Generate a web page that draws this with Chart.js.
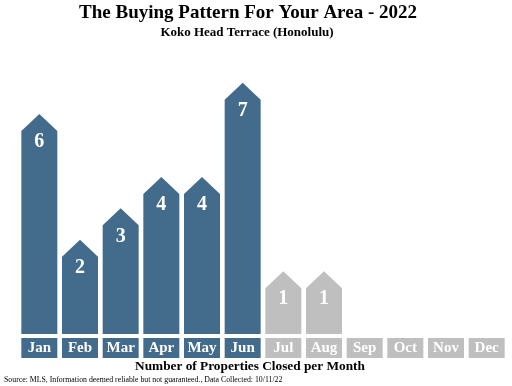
<!DOCTYPE html>
<html>
<head>
<meta charset="utf-8">
<script src="https://cdn.jsdelivr.net/npm/chart.js@4/dist/chart.umd.min.js"></script>
<style>
    html, body { margin: 0; padding: 0; background: #fff; }
    #wrap { width: 512px; height: 386px; }
</style>
</head>
<body>
<div id="wrap"><canvas id="buying_chart"></canvas></div>
<script>
// data
const months = ['Jan', 'Feb', 'Mar', 'Apr', 'May', 'Jun', 'Jul', 'Aug', 'Sep', 'Oct', 'Nov', 'Dec'];
const closed = [6, 2, 3, 4, 4, 7, 1, 1, 0, 0, 0, 0];
const last_month_done = 6; // Jan..Jun in blue, the rest grey

const main_title = 'The Buying Pattern For Your Area - 2022';
const sub_title  = 'Koko Head Terrace (Honolulu)';
const axis_title = 'Number of Properties Closed per Month';
const source_note = 'Source: MLS, Information deemed reliable but not guaranteed., Data Collected: 10/11/22';

const BLUE  = '#436b8b';
const GREY  = '#bfbfbf';
const SERIF = '"Liberation Serif", "DejaVu Serif", serif';

const bar_colors = months.map( ( m, i ) => i < last_month_done ? BLUE : GREY );

const house_plugin = {
    id: 'house_bars',
    afterDatasetsDraw( chart ){
        const ctx  = chart.ctx;
        const meta = chart.getDatasetMeta( 0 );

        ctx.save();
        meta.data.forEach( ( bar, i ) => {
            const half = bar.width / 2;
            const roof = half - 1;

            if( closed[i] > 0 ){
                ctx.beginPath();
                ctx.moveTo( bar.x - half, bar.base );
                ctx.lineTo( bar.x - half, bar.y + roof );
                ctx.lineTo( bar.x, bar.y );
                ctx.lineTo( bar.x + half, bar.y + roof );
                ctx.lineTo( bar.x + half, bar.base );
                ctx.closePath();
                ctx.fillStyle = bar_colors[i];
                ctx.fill();

                ctx.fillStyle    = '#fff';
                ctx.font         = 'bold 20px ' + SERIF;
                ctx.textAlign    = 'center';
                ctx.textBaseline = 'middle';
                ctx.fillText( String( closed[i] ), bar.x, bar.y + 28 );
            }

            // month tag under the bar
            ctx.fillStyle = bar_colors[i];
            ctx.fillRect( bar.x - half, bar.base + 4, bar.width, 20 );
            ctx.fillStyle    = '#fff';
            ctx.font         = 'bold 15px ' + SERIF;
            ctx.textAlign    = 'center';
            ctx.textBaseline = 'middle';
            ctx.fillText( months[i], bar.x, bar.base + 14.5 );
        });
        ctx.restore();
    },
    afterDraw( chart ){
        const ctx = chart.ctx;
        ctx.save();
        ctx.fillStyle    = '#000';
        ctx.textAlign    = 'center';
        ctx.textBaseline = 'middle';

        ctx.font = 'bold 19px ' + SERIF;
        ctx.fillText( main_title, 248, 13 );

        ctx.font = 'bold 13px ' + SERIF;
        ctx.fillText( sub_title, 247, 33 );

        ctx.font = 'bold 13.3px ' + SERIF;
        ctx.fillText( axis_title, 250, 367 );

        ctx.font      = '7.8px ' + SERIF;
        ctx.textAlign = 'left';
        ctx.fillText( source_note, 4, 380 );
        ctx.restore();
    }
};

new Chart( document.getElementById( 'buying_chart' ), {
    type: 'bar',
    data: {
        labels: months,
        datasets: [{
            label: 'Closed',
            data: closed,
            base: -1,
            backgroundColor: 'rgba(0,0,0,0)',
            borderWidth: 0,
            barPercentage: 0.885,
            categoryPercentage: 1
        }]
    },
    options: {
        responsive: true,
        maintainAspectRatio: false,
        animation: false,
        layout: {
            padding: { top: 67, bottom: 52, left: 19, right: 5 }
        },
        scales: {
            x: { display: false },
            y: { display: false, min: -1, max: 7.5 }
        },
        plugins: {
            legend: { display: false },
            tooltip: { enabled: false }
        }
    },
    plugins: [ house_plugin ]
});
</script>
</body>
</html>
